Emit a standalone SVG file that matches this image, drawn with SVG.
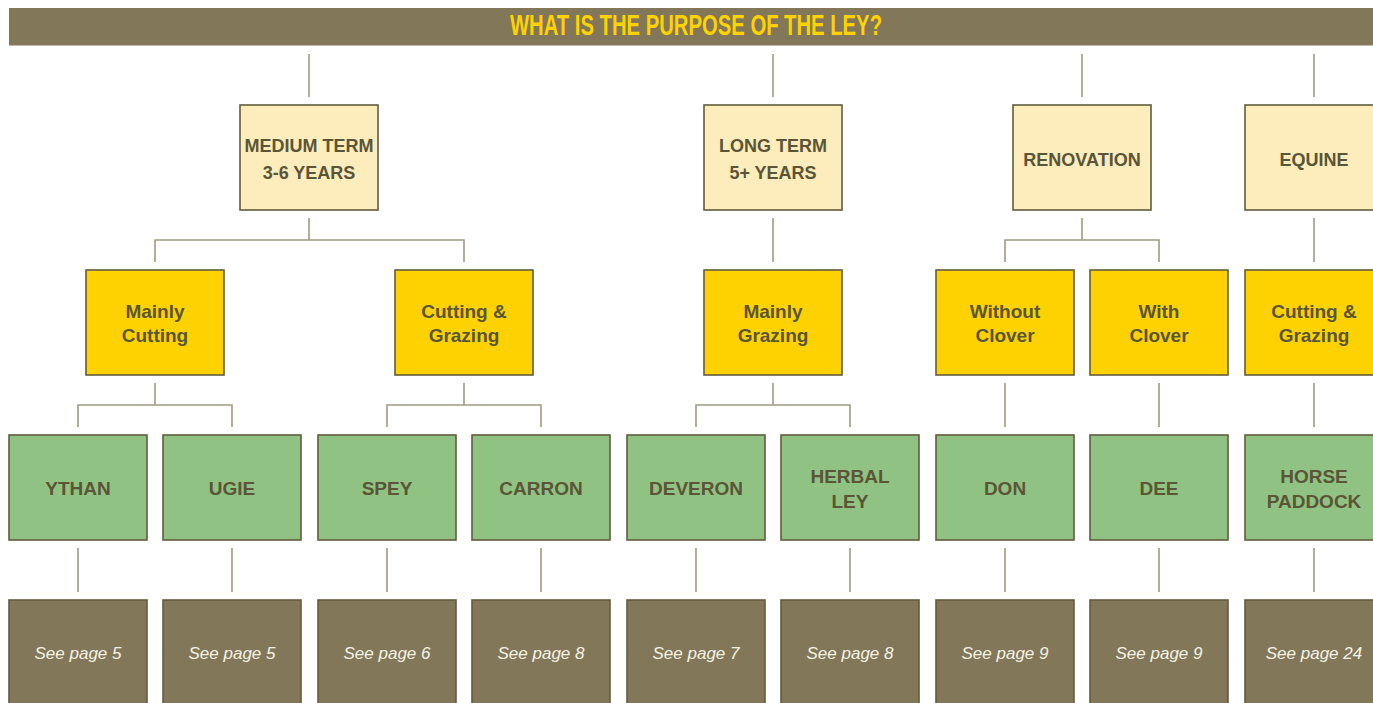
<svg xmlns="http://www.w3.org/2000/svg" width="1373" height="703" viewBox="0 0 1373 703">
<style>
.box{stroke:#625c3c;stroke-width:1.6}
.l1{fill:#fdecbc}
.l2{fill:#fed200}
.l3{fill:#90c383}
.l4{fill:#827859}
.t{font-family:"Liberation Sans",Arial,sans-serif;font-weight:bold;fill:#5a5536;text-anchor:middle}
.t1{font-size:18px}
.t2{font-size:19px}
.t3{font-size:19px}
.t4{font-family:"Liberation Sans",Arial,sans-serif;font-style:italic;font-size:17px;fill:#f6f2e4;text-anchor:middle}
.c{stroke:#a09a82;stroke-width:1.6;fill:none}
</style>
<rect x="0" y="0" width="1373" height="703" fill="#ffffff"/>
<g id="title">
<rect x="9" y="8" width="1364" height="37.5" fill="#827859"/>
<text x="696" y="34.5" font-family="Liberation Sans, Arial, sans-serif" font-weight="bold" font-size="29" fill="#ffd200" text-anchor="middle" textLength="372" lengthAdjust="spacingAndGlyphs">WHAT IS THE PURPOSE OF THE LEY?</text>
</g>
<g id="connectors" class="c">
<path d="M309 54V97M773 54V97M1082 54V97M1314 54V97"/>
<path d="M309 218V240M155 262V240H464V262"/>
<path d="M773 218V262"/>
<path d="M1082 218V240M1005 262V240H1159V262"/>
<path d="M1314 218V262"/>
<path d="M155 383V405M78 427V405H232V427"/>
<path d="M464 383V405M387 427V405H541V427"/>
<path d="M773 383V405M696 427V405H850V427"/>
<path d="M1005 383V427M1159 383V427M1314 383V427"/>
<path d="M78 548V592M232 548V592M387 548V592M541 548V592M696 548V592M850 548V592M1005 548V592M1159 548V592M1314 548V592"/>
</g>
<g id="medium-term"><rect class="box l1" x="240" y="105" width="138" height="105"/><text class="t t1" x="309" y="152">MEDIUM TERM</text><text class="t t1" x="309" y="179">3-6 YEARS</text></g>
<g id="long-term"><rect class="box l1" x="704" y="105" width="138" height="105"/><text class="t t1" x="773" y="152">LONG TERM</text><text class="t t1" x="773" y="179">5+ YEARS</text></g>
<g id="renovation"><rect class="box l1" x="1013" y="105" width="138" height="105"/><text class="t t1" x="1082" y="166">RENOVATION</text></g>
<g id="equine"><rect class="box l1" x="1245" y="105" width="138" height="105"/><text class="t t1" x="1314" y="166">EQUINE</text></g>
<g id="mainly-cutting"><rect class="box l2" x="86" y="270" width="138" height="105"/><text class="t t2" x="155" y="318">Mainly</text><text class="t t2" x="155" y="342">Cutting</text></g>
<g id="cutting-grazing-1"><rect class="box l2" x="395" y="270" width="138" height="105"/><text class="t t2" x="464" y="318">Cutting &amp;</text><text class="t t2" x="464" y="342">Grazing</text></g>
<g id="mainly-grazing"><rect class="box l2" x="704" y="270" width="138" height="105"/><text class="t t2" x="773" y="318">Mainly</text><text class="t t2" x="773" y="342">Grazing</text></g>
<g id="without-clover"><rect class="box l2" x="936" y="270" width="138" height="105"/><text class="t t2" x="1005" y="318">Without</text><text class="t t2" x="1005" y="342">Clover</text></g>
<g id="with-clover"><rect class="box l2" x="1090" y="270" width="138" height="105"/><text class="t t2" x="1159" y="318">With</text><text class="t t2" x="1159" y="342">Clover</text></g>
<g id="cutting-grazing-2"><rect class="box l2" x="1245" y="270" width="138" height="105"/><text class="t t2" x="1314" y="318">Cutting &amp;</text><text class="t t2" x="1314" y="342">Grazing</text></g>
<g id="ythan"><rect class="box l3" x="9" y="435" width="138" height="105"/><text class="t t3" x="78" y="495">YTHAN</text></g>
<g id="ugie"><rect class="box l3" x="163" y="435" width="138" height="105"/><text class="t t3" x="232" y="495">UGIE</text></g>
<g id="spey"><rect class="box l3" x="318" y="435" width="138" height="105"/><text class="t t3" x="387" y="495">SPEY</text></g>
<g id="carron"><rect class="box l3" x="472" y="435" width="138" height="105"/><text class="t t3" x="541" y="495">CARRON</text></g>
<g id="deveron"><rect class="box l3" x="627" y="435" width="138" height="105"/><text class="t t3" x="696" y="495">DEVERON</text></g>
<g id="herbal-ley"><rect class="box l3" x="781" y="435" width="138" height="105"/><text class="t t3" x="850" y="483">HERBAL</text><text class="t t3" x="850" y="508">LEY</text></g>
<g id="don"><rect class="box l3" x="936" y="435" width="138" height="105"/><text class="t t3" x="1005" y="495">DON</text></g>
<g id="dee"><rect class="box l3" x="1090" y="435" width="138" height="105"/><text class="t t3" x="1159" y="495">DEE</text></g>
<g id="horse-paddock"><rect class="box l3" x="1245" y="435" width="138" height="105"/><text class="t t3" x="1314" y="483">HORSE</text><text class="t t3" x="1314" y="508">PADDOCK</text></g>
<g id="page-ythan"><rect class="box l4" x="9" y="600" width="138" height="106"/><text class="t4" x="78" y="659">See page 5</text></g>
<g id="page-ugie"><rect class="box l4" x="163" y="600" width="138" height="106"/><text class="t4" x="232" y="659">See page 5</text></g>
<g id="page-spey"><rect class="box l4" x="318" y="600" width="138" height="106"/><text class="t4" x="387" y="659">See page 6</text></g>
<g id="page-carron"><rect class="box l4" x="472" y="600" width="138" height="106"/><text class="t4" x="541" y="659">See page 8</text></g>
<g id="page-deveron"><rect class="box l4" x="627" y="600" width="138" height="106"/><text class="t4" x="696" y="659">See page 7</text></g>
<g id="page-herbal"><rect class="box l4" x="781" y="600" width="138" height="106"/><text class="t4" x="850" y="659">See page 8</text></g>
<g id="page-don"><rect class="box l4" x="936" y="600" width="138" height="106"/><text class="t4" x="1005" y="659">See page 9</text></g>
<g id="page-dee"><rect class="box l4" x="1090" y="600" width="138" height="106"/><text class="t4" x="1159" y="659">See page 9</text></g>
<g id="page-horse"><rect class="box l4" x="1245" y="600" width="138" height="106"/><text class="t4" x="1314" y="659">See page 24</text></g>
</svg>
